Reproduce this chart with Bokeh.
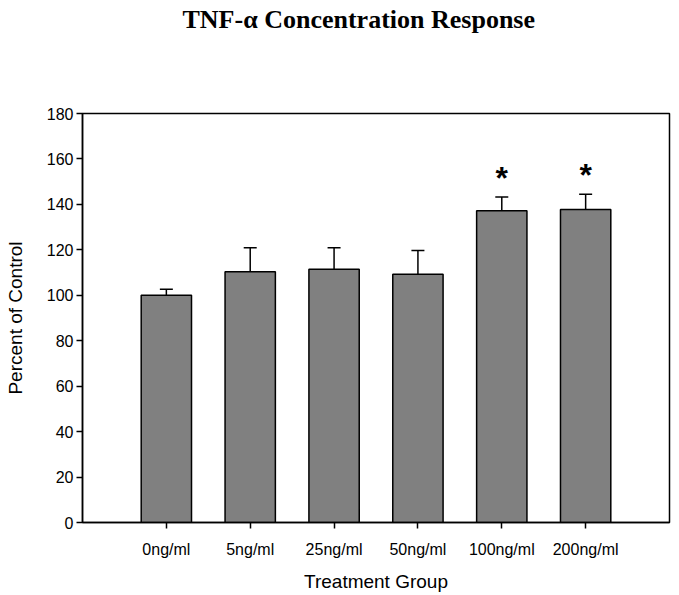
from bokeh.plotting import figure
from bokeh.models import ColumnDataSource, Whisker, TeeHead, FixedTicker, Title
from bokeh.core.properties import value
from bokeh.embed import file_html
from bokeh.resources import INLINE

title_text = "TNF-\u03b1 Concentration Response"
groups = ["0ng/ml", "5ng/ml", "25ng/ml", "50ng/ml", "100ng/ml", "200ng/ml"]
means = [100.0, 110.3, 111.5, 109.2, 137.2, 137.8]
errors = [2.7, 10.6, 9.4, 10.5, 6.1, 6.7]
significant = [False, False, False, False, True, True]
y_ticks = [0, 20, 40, 60, 80, 100, 120, 140, 160, 180]

xs = list(range(len(groups)))
uppers = [m + e for m, e in zip(means, errors)]
src = ColumnDataSource(dict(x=xs, top=means, upper=uppers, label=groups))

star_x = [x for x, s in zip(xs, significant) if s]
star_y = [u for u, s in zip(uppers, significant) if s]
star_src = ColumnDataSource(dict(x=star_x, y=star_y, t=["*"] * len(star_x)))

p = figure(width=679, height=595, x_range=(-1, len(groups)), y_range=(0, 180),
           title=None, output_backend="svg", toolbar_location=None,
           min_border_left=82, min_border_right=10, min_border_top=113, min_border_bottom=73)

spacer = Title(text=" ", text_font_size="2px", standoff=76)
p.add_layout(spacer, "above")
main_title = Title(text=title_text, text_font="Liberation Serif", text_font_size="26px",
                   text_font_style="bold", text_color="black", align="left", offset=100,
                   vertical_align="bottom", standoff=0)
p.add_layout(main_title, "above")

p.vbar(x="x", top="top", width=0.6, bottom=0, source=src,
       fill_color="#808080", line_color="black", line_width=1.5)
w = Whisker(source=src, base="x", upper="upper", lower="top",
            upper_head=TeeHead(size=13, line_color="black", line_width=1.5),
            lower_head=None, line_color="black", line_width=1.5)
p.add_layout(w)
p.text(x="x", y="y", text="t", source=star_src, x_offset=0, y_offset=-1,
       text_align="center", text_baseline="bottom",
       text_font=value("Liberation Sans"), text_font_size="32px",
       text_font_style="bold", text_color="black")

p.grid.visible = False
p.outline_line_color = "black"
p.outline_line_width = 1.5
p.background_fill_color = "white"
p.border_fill_color = "white"

p.xaxis.ticker = FixedTicker(ticks=xs)
p.xaxis.major_label_overrides = {i: g for i, g in zip(xs, groups)}
p.yaxis.ticker = FixedTicker(ticks=y_ticks)

for ax in (p.xaxis[0], p.yaxis[0]):
    ax.axis_line_color = "black"
    ax.axis_line_width = 1.5
    ax.major_tick_line_color = "black"
    ax.major_tick_line_width = 1.5
    ax.major_tick_in = 0
    ax.major_tick_out = 6
    ax.minor_tick_line_color = None
    ax.major_label_text_font = "Liberation Sans"
    ax.major_label_text_font_size = "16px"
    ax.major_label_text_color = "black"
    ax.axis_label_text_font = "Liberation Sans"
    ax.axis_label_text_font_size = "19px"
    ax.axis_label_text_font_style = "normal"
    ax.axis_label_text_color = "black"

p.xaxis.axis_label = "Treatment Group"
p.yaxis.axis_label = "Percent of Control"
p.xaxis.major_label_standoff = 12
p.xaxis.axis_label_standoff = 10
p.yaxis.major_label_standoff = 3
p.yaxis.axis_label_standoff = 18

open("out.html", "w").write(file_html(p, INLINE))
